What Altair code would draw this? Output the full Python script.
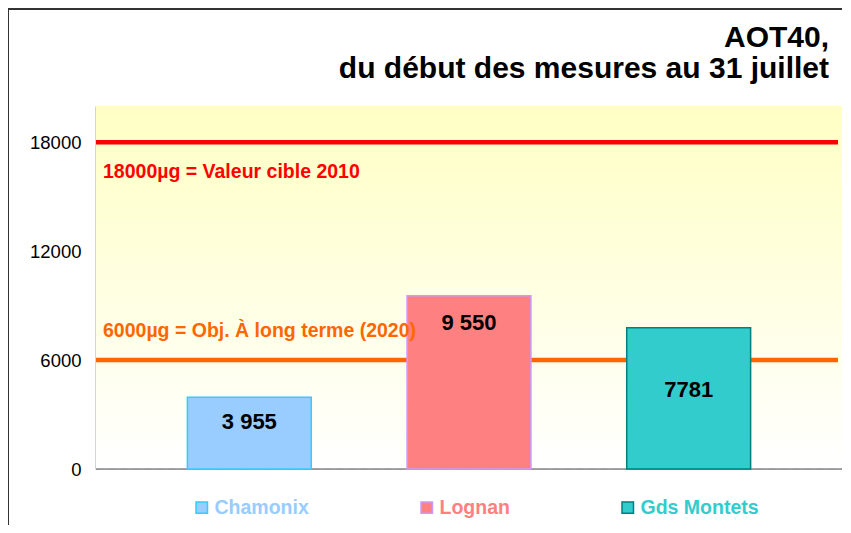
import altair as alt
import pandas as pd

# ---- data ----
stations = ["Chamonix", "Lognan", "Gds Montets"]
values = [3955, 9550, 7781]
value_labels = ["3 955", "9 550", "7781"]
fill_colors = ["#99CCFF", "#FF8080", "#33CCCC"]
stroke_colors = ["#33CCFF", "#CC99FF", "#008080"]

threshold_values = [18000, 6000]
threshold_labels = ["18000µg = Valeur cible 2010", "6000µg = Obj. À long terme (2020)"]
threshold_colors = ["#FF0000", "#FF6600"]

y_ticks = [0, 6000, 12000, 18000]
title_lines = ["AOT40,", "du début des mesures au 31 juillet"]

FONT = "Liberation Sans"

bars_df = pd.DataFrame({"station": stations, "value": values, "label": value_labels})
thr_df = pd.DataFrame({"thr": threshold_values, "label": threshold_labels, "color": threshold_colors})

W, H = 746, 363

x_enc = alt.X("station:N", sort=stations, axis=None,
              scale=alt.Scale(paddingInner=0.436, paddingOuter=0.416))
y_scale = alt.Scale(domain=[0, 20000], nice=False)

legend = alt.Legend(title=None, orient="none", direction="horizontal",
                    legendX=96, legendY=391.5,
                    symbolType="square", symbolSize=132,
                    symbolStrokeWidth=1.5,
                    labelFontSize=19.5, labelFont=FONT, labelFontWeight="bold",
                    labelColor=alt.ExprRef("scale('color', datum.value)"),
                    labelOffset=3, columnPadding=108)

base = alt.Chart(bars_df)

bars = base.mark_bar(strokeWidth=1.5).encode(
    x=x_enc,
    y=alt.Y("value:Q", scale=y_scale,
            axis=alt.Axis(values=y_ticks, format="d", title=None, ticks=False,
                          labelFontSize=18.5, labelFont=FONT, labelColor="#000000",
                          labelPadding=15, domainColor="#555555", domainWidth=1.5,
                          grid=True, gridDash=[6, 6], gridColor="#BBBBBB", gridWidth=1)),
    color=alt.Color("station:N", sort=stations,
                    scale=alt.Scale(domain=stations, range=fill_colors), legend=legend),
    stroke=alt.Stroke("station:N", sort=stations,
                      scale=alt.Scale(domain=stations, range=stroke_colors), legend=legend),
)

label_layers = []
for st, dy in zip(stations, [25, 27, 62]):
    label_layers.append(
        base.transform_filter(alt.datum.station == st).mark_text(
            font=FONT, fontSize=22, fontWeight="bold", color="#000000",
            baseline="middle", dy=dy
        ).encode(x=x_enc, y=alt.Y("value:Q", scale=y_scale), text="label:N")
    )

thr_base = alt.Chart(thr_df)
rules = thr_base.mark_rule(strokeWidth=4.5).encode(
    y=alt.Y("thr:Q", scale=y_scale),
    x=alt.value(0), x2=alt.value(W - 4),
    color=alt.Color("color:N", scale=None),
)

thr_text_layers = []
for tv, dy in zip(threshold_values, [36, -23]):
    thr_text_layers.append(
        thr_base.transform_filter(alt.datum.thr == tv).mark_text(
            font=FONT, fontSize=19.5, fontWeight="bold", align="left",
            baseline="alphabetic", dy=dy
        ).encode(y=alt.Y("thr:Q", scale=y_scale), x=alt.value(7),
                 text="label:N", color=alt.Color("color:N", scale=None))
    )

one = pd.DataFrame({"k": [0]})
bg = alt.Chart(one).mark_rect(
    color=alt.LinearGradient(gradient="linear", x1=0, x2=0, y1=0, y2=1,
                             stops=[alt.GradientStop(offset=0, color="#FFFFC4"),
                                    alt.GradientStop(offset=1, color="#FFFFFF")])
).encode(x=alt.value(0), x2=alt.value(W), y=alt.value(0), y2=alt.value(H))

baseline = alt.Chart(one).mark_rule(color="#888888", strokeWidth=1.5).encode(
    y=alt.Y("datum_zero:Q", scale=y_scale), x=alt.value(0), x2=alt.value(W)
).transform_calculate(datum_zero="0")

frame_left = alt.Chart(one).mark_rule(color="#333333", strokeWidth=2).encode(
    x=alt.value(-88), y=alt.value(-97), y2=alt.value(H + 120))
frame_top = alt.Chart(one).mark_rule(color="#333333", strokeWidth=2).encode(
    x=alt.value(-89), x2=alt.value(W + 40), y=alt.value(-97))

chart = alt.layer(frame_left, frame_top, bg, baseline, rules, bars,
                  *label_layers, *thr_text_layers).properties(
    width=W, height=H,
    padding={"left": 88, "top": 98, "right": 0, "bottom": 56},
    autosize=alt.AutoSizeParams(type="none"),
    title=alt.Title(text=title_lines, anchor="end", align="right", fontSize=30,
                    font=FONT, fontWeight="bold", color="#000000", frame="group",
                    lineHeight=31, offset=-76, dx=-13),
).resolve_legend(color="shared", stroke="shared").configure_view(
    stroke="#888888", strokeWidth=1.5
).configure(background="#FFFFFF")

chart.save("out.html", embed_options={"renderer": "svg", "actions": False})
